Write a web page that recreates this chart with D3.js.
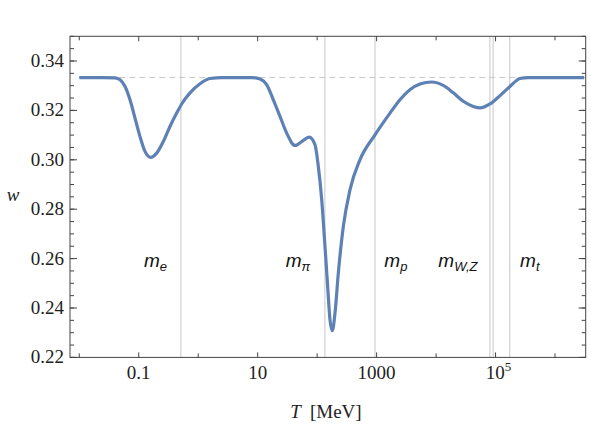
<!DOCTYPE html>
<html>
<head>
<meta charset="utf-8">
<script src="https://cdn.jsdelivr.net/npm/d3@7"></script>
<style>
  body { margin: 0; background: #fff; }
  svg { display: block; }
  .tick-label { font-family: "Liberation Serif", "DejaVu Serif", serif; font-size: 19px; fill: #222; }
  .mass-label { font-family: "Liberation Sans", Arial, sans-serif; font-style: italic; fill: #111; }
</style>
</head>
<body>
<div id="chart"></div>
<script>
// equation-of-state parameter w versus temperature T (log10 of T in MeV)
var logT = [-2.0, -1.6, -1.4, -1.314, -1.23, -1.147, -1.063, -0.98, -0.895, -0.80,
	-0.698, -0.587, -0.475, -0.362, -0.278, -0.138, 0.03, 0.2, 0.4, 0.9,
	1.039, 1.15, 1.263, 1.375, 1.488, 1.628, 1.74, 1.868, 1.964, 2.02,
	2.077, 2.132, 2.177, 2.216, 2.255, 2.30, 2.356, 2.44, 2.553, 2.72,
	2.973, 3.225, 3.393, 3.56, 3.73, 3.927, 4.12, 4.29, 4.458, 4.626,
	4.74, 4.907, 5.075, 5.243, 5.41, 5.55, 6.49];
var wValues = [0.3333, 0.3333, 0.3332, 0.3324, 0.3297, 0.3243, 0.3169, 0.3095, 0.3034, 0.3010,
	0.3027, 0.3074, 0.3135, 0.3189, 0.3226, 0.3271, 0.3308, 0.3329, 0.3333, 0.3333,
	0.3327, 0.3304, 0.3243, 0.3176, 0.3108, 0.3058, 0.3074, 0.3092, 0.3061, 0.2973,
	0.2838, 0.2649, 0.2487, 0.2352, 0.2308, 0.2379, 0.2541, 0.2730, 0.2879, 0.3000,
	0.3101, 0.3189, 0.3243, 0.3284, 0.3307, 0.3315, 0.3301, 0.3271, 0.3237, 0.3216,
	0.3210, 0.3226, 0.3260, 0.3297, 0.3329, 0.3333, 0.3333];

// particle masses in MeV (gray vertical lines)
var massValues = [0.511, 134.98, 938.27, 80379, 91188, 172760];

// mass annotations: name, subscript, log10 T of left edge, w of baseline
var massNames = ["m", "m", "m", "m", "m"];
var massSubs = ["e", "\u03c0", "p", "W,Z", "t"];
var massLabelLogT = [-0.912, 1.471, 3.130, 4.038, 5.412];
var massLabelW = 0.2568;

var xTickValues = [0.01, 0.1, 1, 10, 100, 1000, 1e4, 1e5, 1e6];
var xTickLabels = {"0.1": "0.1", "10": "10", "1000": "1000", "100000": "10^5"};
var yMajorTicks = [0.22, 0.24, 0.26, 0.28, 0.30, 0.32, 0.34];
var yMinorTicks = d3.range(0, 27).map(function(i){ return 0.22 + i * 0.005; });

var width = 591, height = 428;
var plotLeft = 70, plotRight = 585.7, plotTop = 36.3, plotBottom = 357.4;

var svg = d3.select("#chart").append("svg")
	.attr("width", width)
	.attr("height", height);

var x = d3.scaleLog().domain([Math.pow(10, -2.156), Math.pow(10, 6.516)]).range([plotLeft, plotRight]);
var y = d3.scaleLinear().domain([0.22, 0.35]).range([plotBottom, plotTop]);

// mass lines
svg.selectAll("line.mass")
	.data(massValues)
	.enter().append("line")
	.attr("class", "mass")
	.attr("x1", function(d){ return x(d); })
	.attr("x2", function(d){ return x(d); })
	.attr("y1", plotTop).attr("y2", plotBottom)
	.attr("stroke", "#d4d4d4")
	.attr("stroke-width", 1.3);

// w = 1/3 reference
svg.append("line")
	.attr("x1", x(0.01)).attr("x2", plotRight)
	.attr("y1", y(1/3)).attr("y2", y(1/3))
	.attr("stroke", "#c8c8c8")
	.attr("stroke-width", 1)
	.attr("stroke-dasharray", "6,4");

// curve
var points = logT.map(function(l, i){ return [Math.pow(10, l), wValues[i]]; });
var line = d3.line()
	.x(function(d){ return x(d[0]); })
	.y(function(d){ return y(d[1]); })
	.curve(d3.curveMonotoneX);

svg.append("path")
	.datum(points)
	.attr("d", line)
	.attr("fill", "none")
	.attr("stroke", "#5E81B5")
	.attr("stroke-width", 3.2)
	.attr("stroke-linejoin", "round");

// mass labels
massNames.forEach(function(n, i){
	var t = svg.append("text")
		.attr("class", "mass-label")
		.attr("x", x(Math.pow(10, massLabelLogT[i])))
		.attr("y", y(massLabelW))
		.attr("font-size", 19);
	t.append("tspan").text(n);
	t.append("tspan").attr("font-size", 13).attr("dy", 4).text(massSubs[i]);
});

var frameColor = "#444";

// frame
svg.append("rect")
	.attr("x", plotLeft).attr("y", plotTop)
	.attr("width", plotRight - plotLeft).attr("height", plotBottom - plotTop)
	.attr("fill", "none")
	.attr("stroke", frameColor)
	.attr("stroke-width", 1);

// x ticks, bottom and top
xTickValues.forEach(function(v){
	var len = xTickLabels[String(v)] ? 5 : 4;
	svg.append("line")
		.attr("x1", x(v)).attr("x2", x(v))
		.attr("y1", plotBottom).attr("y2", plotBottom - len)
		.attr("stroke", frameColor);
	svg.append("line")
		.attr("x1", x(v)).attr("x2", x(v))
		.attr("y1", plotTop).attr("y2", plotTop + len)
		.attr("stroke", frameColor);
	var lab = xTickLabels[String(v)];
	if (lab) {
		var t = svg.append("text")
			.attr("class", "tick-label")
			.attr("x", x(v))
			.attr("y", 379)
			.attr("text-anchor", "middle");
		if (lab.indexOf("^") > 0) {
			var parts = lab.split("^");
			t.attr("x", x(v) + 3);
			t.append("tspan").text(parts[0]);
			t.append("tspan").attr("font-size", 13).attr("dy", -8).text(parts[1]);
		} else {
			t.text(lab);
		}
	}
});

// y ticks, left and right
yMinorTicks.forEach(function(v){
	svg.append("line")
		.attr("x1", plotLeft).attr("x2", plotLeft + 4)
		.attr("y1", y(v)).attr("y2", y(v))
		.attr("stroke", frameColor);
	svg.append("line")
		.attr("x1", plotRight).attr("x2", plotRight - 4)
		.attr("y1", y(v)).attr("y2", y(v))
		.attr("stroke", frameColor);
});
yMajorTicks.forEach(function(v){
	svg.append("line")
		.attr("x1", plotLeft).attr("x2", plotLeft + 7)
		.attr("y1", y(v)).attr("y2", y(v))
		.attr("stroke", frameColor);
	svg.append("line")
		.attr("x1", plotRight).attr("x2", plotRight - 7)
		.attr("y1", y(v)).attr("y2", y(v))
		.attr("stroke", frameColor);
	svg.append("text")
		.attr("class", "tick-label")
		.attr("x", 64)
		.attr("y", y(v) + 6)
		.attr("text-anchor", "end")
		.text(d3.format(".2f")(v));
});

// axis titles
var xt = svg.append("text")
	.attr("class", "tick-label")
	.attr("x", 326)
	.attr("y", 418)
	.attr("text-anchor", "middle")
	.attr("font-size", 20);
xt.append("tspan").attr("font-style", "italic").text("T");
xt.append("tspan").attr("dx", 9).text("[MeV]");

svg.append("text")
	.attr("class", "tick-label")
	.attr("x", 13)
	.attr("y", 201)
	.attr("text-anchor", "middle")
	.attr("font-style", "italic")
	.attr("font-size", 20)
	.text("w");
</script>
</body>
</html>
